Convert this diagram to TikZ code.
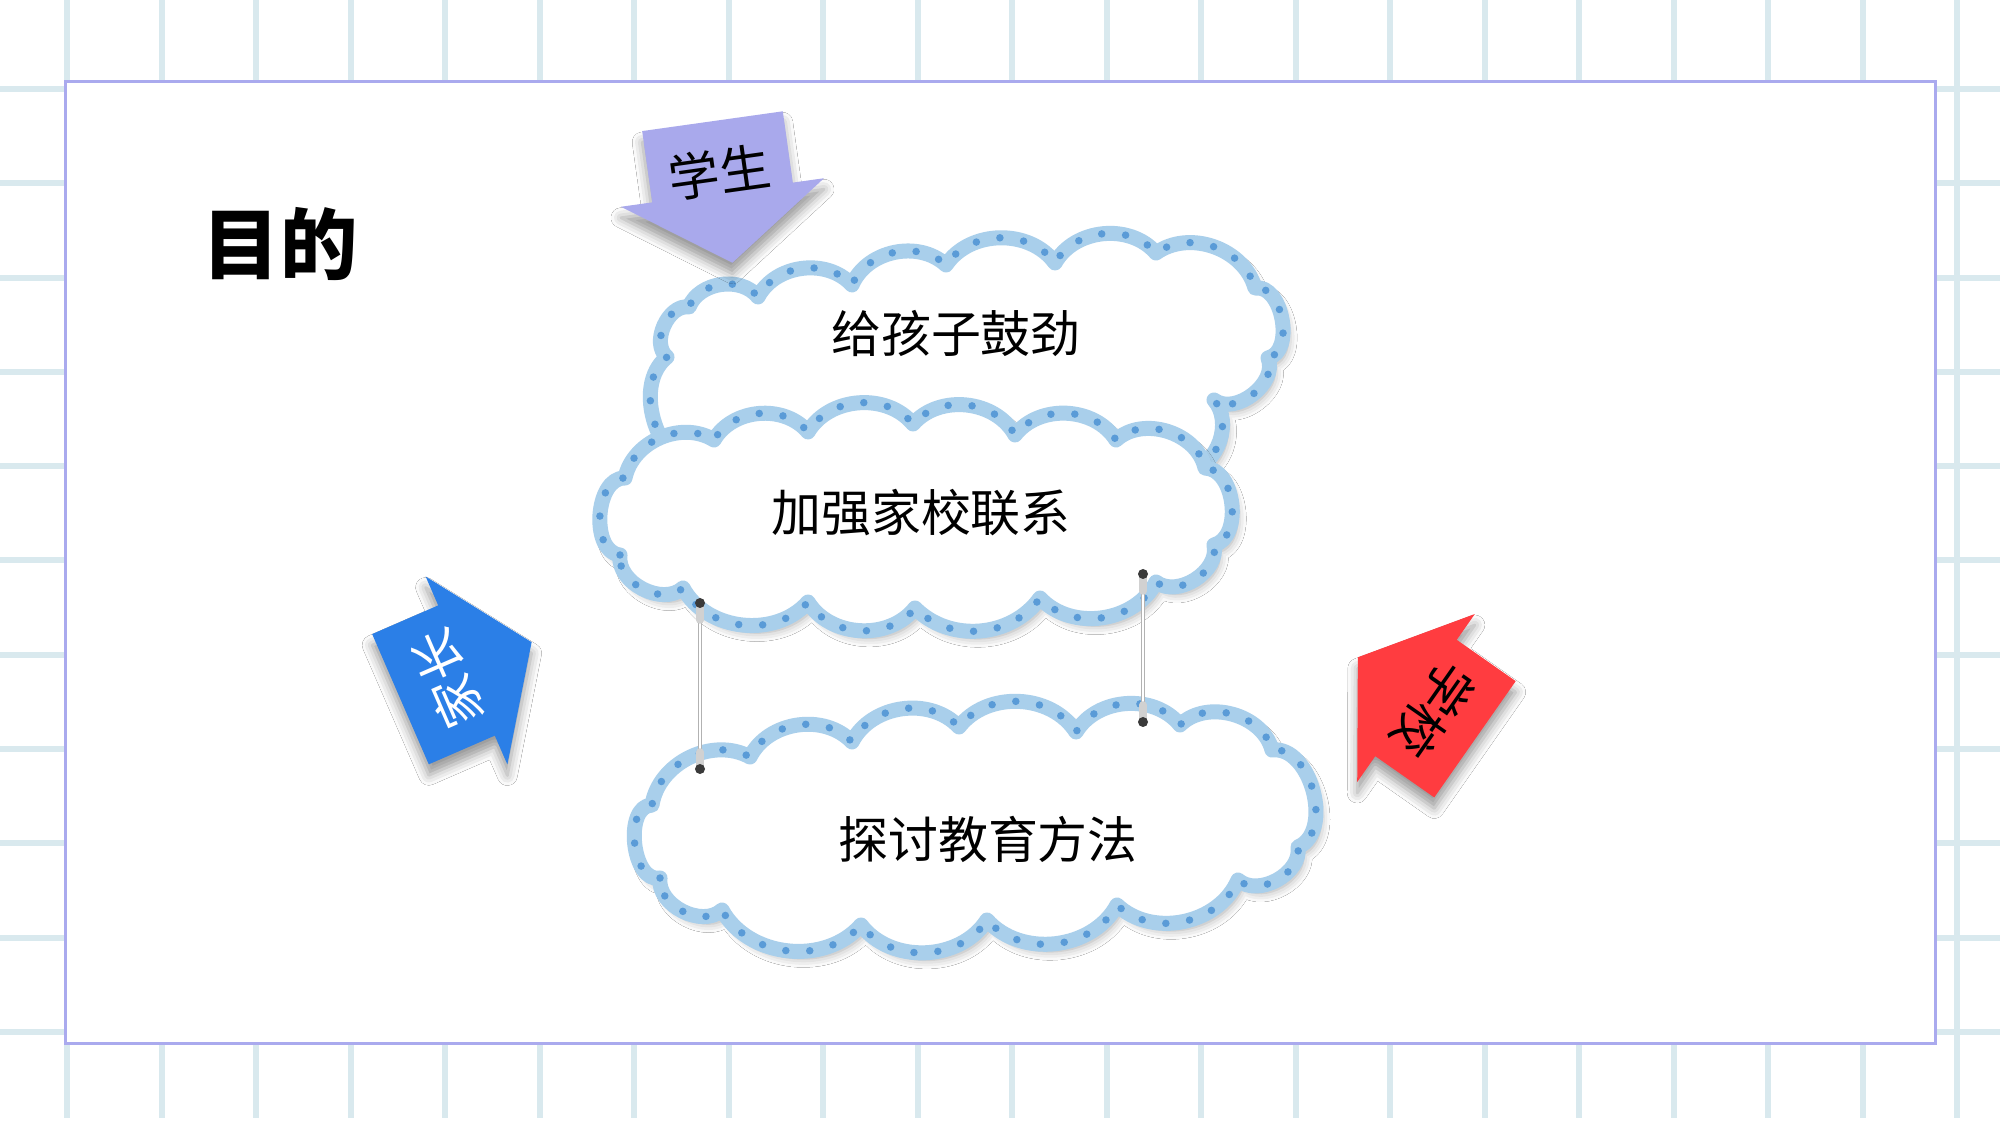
\documentclass[tikz,border=0pt]{standalone}
\usepackage{fontspec}
\newfontfamily\cjk{Noto Sans CJK SC}
\usetikzlibrary{shadows.blur}
\definecolor{gridc}{HTML}{D9E9EE}
\definecolor{framec}{HTML}{AAAAEE}
\definecolor{bandc}{HTML}{A9CFEB}
\definecolor{dotc}{HTML}{5A9BD7}
\definecolor{lav}{HTML}{A9A9EC}
\definecolor{bluea}{HTML}{2B7FE7}
\definecolor{reda}{HTML}{FF3C40}
\definecolor{pegc}{HTML}{3A3A3A}
\tikzset{
  gridline/.style={draw=gridc, line width=0.06cm},
  arrowshadow/.style={blur shadow={shadow xshift=0cm, shadow yshift=-0.11cm, shadow blur radius=0.1cm, shadow opacity=40}},
  cloudshadow/.style={blur shadow={shadow xshift=0.05cm, shadow yshift=-0.07cm, shadow blur radius=0.09cm, shadow opacity=35}},
  cloudband/.style={draw=bandc, line width=0.15cm, fill=white, line join=round, cloudshadow,
    postaction={draw=dotc, fill=none, line width=0.075cm, dash pattern=on 0pt off 0.24cm, line cap=round}},
  cloudtext/.style={inner sep=0pt, font=\cjk\fontsize{14.2}{17}\selectfont},
  arrowtext/.style={inner sep=0pt, font=\cjk\fontsize{14.5}{17}\selectfont},
  stringline/.style={draw=black!30, line width=0.035cm},
  stringhi/.style={draw=white, line width=0.012cm},
  eyelet/.style={draw=black!18, line width=0.075cm, line cap=round},
}
\newcommand\dirarrow[6]{%
  \begin{scope}[shift={#2},rotate=#3]
    \coordinate (#1-a) at (-72,-71);
    \coordinate (#1-b) at (0,-71);
    \coordinate (#1-c) at (0,-102.5);
    \coordinate (#1-d) at (71,0);
    \coordinate (#1-e) at (0,102.5);
    \coordinate (#1-f) at (0,71);
    \coordinate (#1-g) at (-72,71);
    \coordinate (#1-t) at (-21,0);
  \end{scope}
  \fill[#4,arrowshadow] (#1-a) -- (#1-b) -- (#1-c) -- (#1-d) -- (#1-e) -- (#1-f) -- (#1-g) -- cycle;
  \pgfmathsetmacro\arrtextrot{#3+90}
  \node[arrowtext,rotate=\arrtextrot,text=#5] (#1) at (#1-t) {#6};
}
\begin{document}
\begin{tikzpicture}[x=0.01cm,y=-0.01cm]
\useasboundingbox (0,0) rectangle (2000,1125);
\fill[white] (0,0) rectangle (2000,1125);
% grid
\foreach \i in {0,...,20} \draw[gridline] ({67+94.5*\i},0) -- ({67+94.5*\i},1118);
\foreach \j in {0,...,10} \draw[gridline] (0,{89+94.3*\j}) -- (2000,{89+94.3*\j});
% frame
\draw[draw=framec, line width=0.03cm, fill=white] (65,82) rectangle (1935,1043);
% title
\node[inner sep=0pt, font=\cjk\bfseries\fontsize{22}{26}\selectfont] (title) at (280,244) {目的};
% clouds
\draw[cloudband] (705,470) to[bend left=70] (667,357) to[bend left=75] (689,307) to[bend left=60] (758,297)
  to[bend left=55] (852,285) to[bend left=55] (946,265) to[bend left=55] (1055,263) to[bend left=55] (1156,253)
  to[bend left=55] (1255,288) to[bend left=88] (1268,358) to[bend left=75] (1214,400) to[bend left=60] (1190,470) -- cycle;
\draw[cloudband] (620,555) to[bend left=88] (625,478) to[bend left=55] (714,440) to[bend left=55] (808,432)
  to[bend left=55] (913,424) to[bend left=55] (1015,435) to[bend left=55] (1116,440) to[bend left=60] (1205,468)
  to[bend left=82] (1214,545) to[bend left=70] (1156,582) to[bend left=55] (1040,598) to[bend left=50] (915,608)
  to[bend left=55] (808,602) to[bend left=55] (683,588) to[bend left=70] (620,555) -- cycle;
\draw[cloudband] (660,878) to[bend left=95] (652,805) to[bend left=55] (750,757) to[bend left=55] (852,742)
  to[bend left=55] (959,727) to[bend left=55] (1076,732) to[bend left=55] (1180,725) to[bend left=60] (1272,750)
  to[bend left=82] (1298,847) to[bend left=70] (1238,880) to[bend left=55] (1117,905) to[bend left=55] (987,920)
  to[bend left=55] (861,925) to[bend left=55] (722,910) to[bend left=70] (660,878) -- cycle;
\node[cloudtext] (t1) at (956,334) {给孩子鼓劲};
\node[cloudtext] (t2) at (921,513) {加强家校联系};
\node[cloudtext] (t3) at (988,839) {探讨教育方法};
% strings
\coordinate (sl1) at (700,603); \coordinate (sl2) at (700,769);
\coordinate (sr1) at (1143,574); \coordinate (sr2) at (1143,722);
\draw[stringline] (sl1) -- (sl2); \draw[stringhi] (sl1) -- (sl2);
\draw[stringline] (sr1) -- (sr2); \draw[stringhi] (sr1) -- (sr2);
\draw[eyelet] (sl1) -- ++(0,17); \draw[eyelet] (sl2) -- ++(0,-17);
\draw[eyelet] (sr1) -- ++(0,17); \draw[eyelet] (sr2) -- ++(0,-17);
\foreach \p in {sl1,sl2,sr1,sr2} \fill[pegc] (\p) circle (5);
% arrows
\dirarrow{stu}{(722.5,192.5)}{-82}{lav}{black}{学生}
\dirarrow{par}{(466.5,670.5)}{23.5}{bluea}{white}{家长}
\dirarrow{sch}{(1416,698)}{145}{reda}{black}{学校}
\end{tikzpicture}
\end{document}
